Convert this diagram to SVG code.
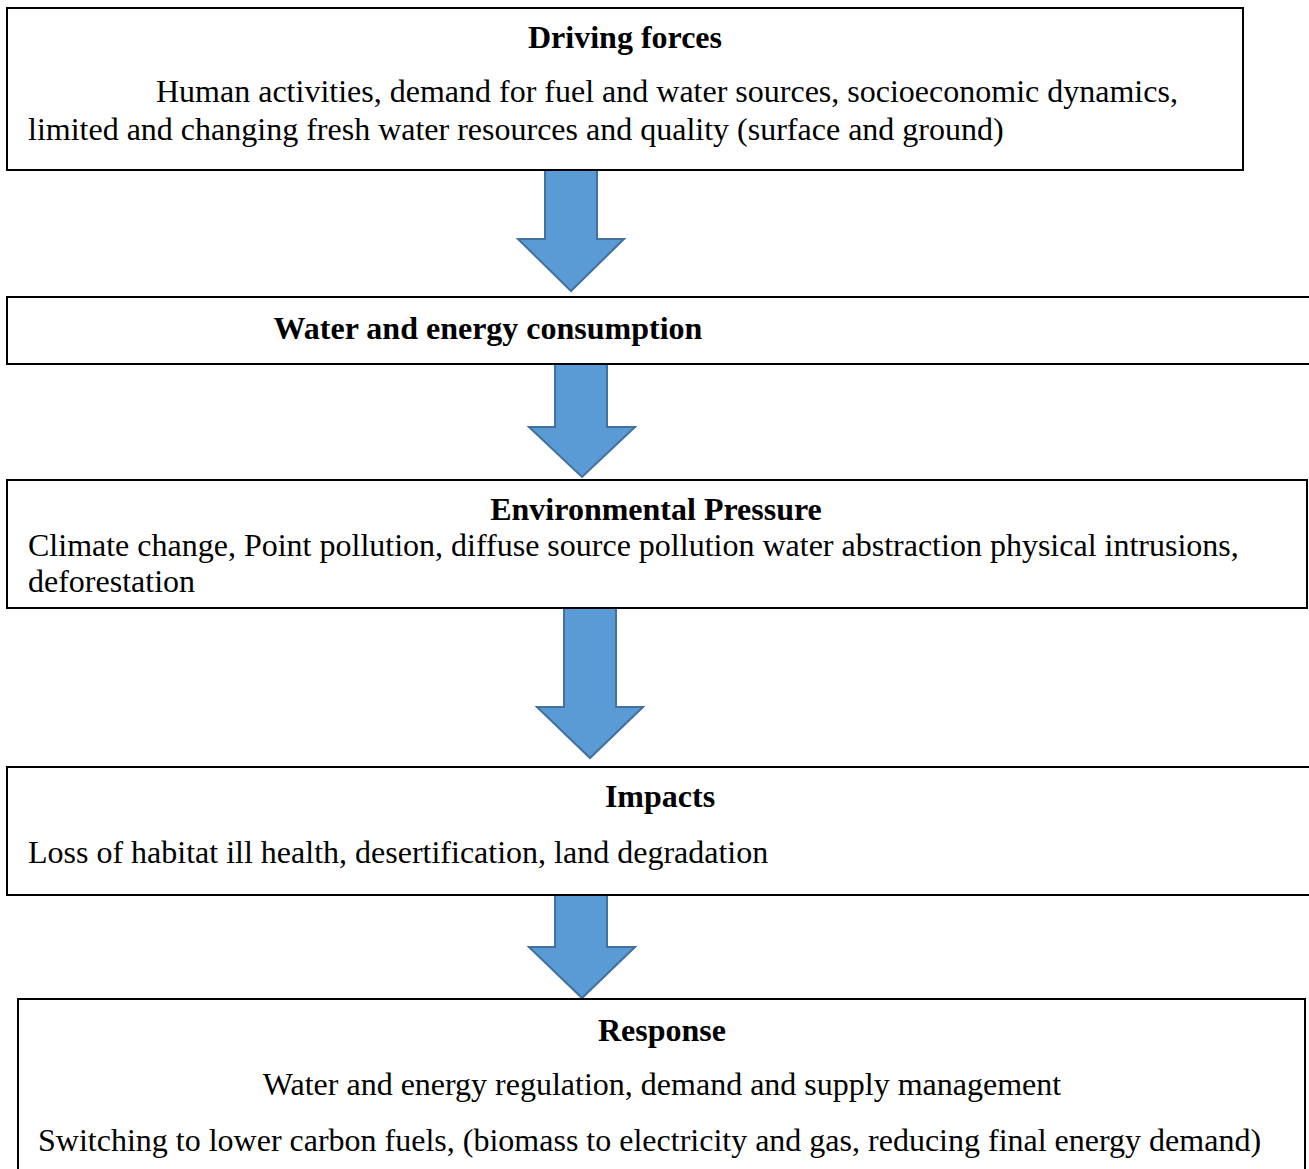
<svg xmlns="http://www.w3.org/2000/svg" width="1309" height="1169" viewBox="0 0 1309 1169">
  <style>
    .box { fill: #ffffff; stroke: #000000; stroke-width: 2; }
    .arrow { fill: #5B9BD5; stroke: #41719C; stroke-width: 2; stroke-linejoin: miter; }
    text { font-family: "Liberation Serif", "Times New Roman", serif; font-size: 32px; fill: #000000; }
    .title { font-weight: bold; text-anchor: middle; }
    .mid { text-anchor: middle; }
  </style>
  <rect width="1309" height="1169" fill="#ffffff"/>

  <!-- Connectors: block arrows between stages -->
  <g id="connectors">
    <polygon class="arrow" points="545,170 597,170 597,239 624,239 571,291 518,239 545,239"/>
    <polygon class="arrow" points="555,364 607,364 607,427 635,427 582,477 529,427 555,427"/>
    <polygon class="arrow" points="564,608 616,608 616,707 643,707 590,758 537,707 564,707"/>
    <polygon class="arrow" points="555,895 607,895 607,947 635,947 582,998 529,947 555,947"/>
  </g>

  <g id="driving-forces">
    <rect class="box" x="7" y="8" width="1236" height="162"/>
    <text class="title" x="625" y="48">Driving forces</text>
    <text x="156" y="102">Human activities, demand for fuel and water sources, socioeconomic dynamics,</text>
    <text x="28" y="140">limited and changing fresh water resources and quality (surface and ground)</text>
  </g>

  <g id="consumption">
    <rect class="box" x="7" y="297" width="1310" height="67"/>
    <text class="title" x="488" y="339">Water and energy consumption</text>
  </g>

  <g id="pressure">
    <rect class="box" x="7" y="480" width="1300" height="128"/>
    <text class="title" x="656" y="520">Environmental Pressure</text>
    <text x="28" y="556">Climate change, Point pollution, diffuse source pollution water abstraction physical intrusions,</text>
    <text x="28" y="592">deforestation</text>
  </g>

  <g id="impacts">
    <rect class="box" x="7" y="767" width="1310" height="128"/>
    <text class="title" x="660" y="807">Impacts</text>
    <text x="28" y="863">Loss of habitat ill health, desertification, land degradation</text>
  </g>

  <g id="response">
    <rect class="box" x="18" y="999" width="1287" height="190"/>
    <text class="title" x="662" y="1041">Response</text>
    <text class="mid" x="662" y="1095">Water and energy regulation, demand and supply management</text>
    <text x="38" y="1151">Switching to lower carbon fuels, (biomass to electricity and gas, reducing final energy demand)</text>
  </g>
</svg>
